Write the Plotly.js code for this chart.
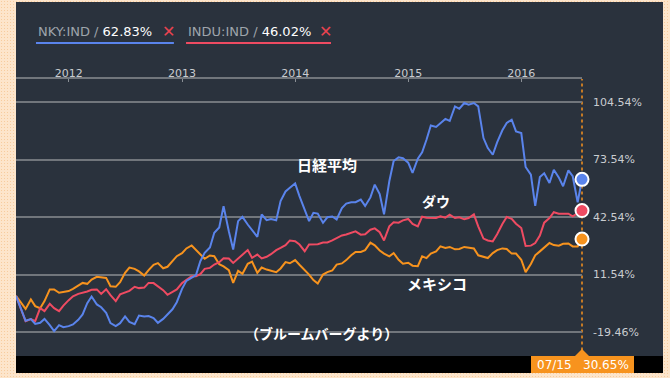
<!DOCTYPE html>
<html>
<head>
<meta charset="utf-8">
<script src="https://cdn.plot.ly/plotly-3.0.1.min.js"></script>
<style>
html,body{margin:0;padding:0;}
body{width:670px;height:378px;overflow:hidden;position:relative;
background-color:#fde5cb;
background-image:radial-gradient(#f7cc9e 0.9px, transparent 1px);
background-size:3px 3px;}
#chart{position:absolute;left:16px;top:2px;width:647px;height:371px;}
</style>
</head>
<body>
<div id="chart"></div>
<script>
// semi-monthly sampling calendar 2011-07-15 .. 2016-07-15
const dates = [];
for (let i = 0; i <= 120; i++) {
  const m = 6 + Math.ceil(i / 2);
  const d = new Date(Date.UTC(2011, m, i % 2 ? 1 : 15));
  dates.push(d.toISOString().slice(0, 10));
}

// % change since start
const nky = [0,-7.0,-13.4,-12.5,-15.1,-14.5,-12.4,-15.8,-19.0,-15.8,
-16.9,-16.3,-15.4,-12.9,-10.0,-3.9,-0.3,-4.6,-6.1,-9.1,
-14.7,-16.3,-14.7,-11.1,-14.0,-15.2,-10.6,-11.1,-10.9,-12.0,
-14.5,-12.4,-10.2,-7.2,-3.4,3.8,8.1,9.6,11.2,18.7,
23.2,26.1,34.0,36.9,48.4,34.9,25.0,40.3,42.6,38.5,
35.4,31.8,43.9,40.8,41.5,40.8,51.1,56.3,58.3,60.6,
53.8,46.2,40.3,44.8,44.4,39.4,42.4,42.8,41.2,47.3,
49.8,50.5,50.5,51.9,48.5,53.1,60.0,54.9,44.0,61.8,
72.7,74.7,74.2,71.8,66.3,74.0,77.4,84.2,91.9,91.1,
93.2,95.4,94.3,102.2,100.9,104.0,103.1,104.0,102.2,85.1,
79.7,76.1,82.8,89.3,93.2,95.0,88.7,87.8,69.5,65.4,
48.5,64.1,66.1,60.9,68.0,63.9,59.1,67.7,64.5,50.5,
62.83];

const indu = [0,-7.7,-13.6,-12.5,-13.6,-6.6,-8.2,-4.3,-6.6,-8.2,
-5.2,-2.3,-0.2,1.1,1.6,2.4,3.3,3.5,1.1,3.6,
0.4,-2.8,0.8,1.6,2.7,4.9,4.2,4.5,7.0,6.9,
5.2,3.1,0.6,2.2,3.5,6.9,8.7,10.6,10.6,11.7,
14.6,15.1,16.9,18.2,20.3,20.2,17.8,20.3,22.4,24.7,
20.5,22.3,20.2,21.1,22.5,24.7,25.9,27.4,29.9,29.5,
27.7,24.1,27.7,27.7,27.9,28.8,28.8,29.9,31.3,32.6,
33.1,33.8,34.8,33.0,33.2,35.7,36.4,34.3,29.9,37.5,
39.7,39.5,40.7,41.5,38.8,37.5,42.7,42.2,42.2,42.0,
42.9,42.2,43.8,42.0,42.4,41.3,42.0,44.0,37.5,30.9,
29.9,29.4,33.2,38.8,42.5,41.6,38.9,36.6,26.9,27.1,
28.5,32.5,39.5,42.0,45.1,44.3,44.3,44.3,42.9,44.7,
46.02];

const mex = [0,-3.7,-7.0,-1.9,-5.5,-6.6,-2.8,3.5,3.5,1.7,
2.2,2.6,3.8,5.8,7.0,6.5,8.8,10.3,9.9,9.7,
5.2,4.9,7.4,12.4,15.3,14.6,13.2,11.0,13.9,16.8,
17.7,14.9,15.7,18.9,21.4,23.0,25.6,27.2,24.7,22.7,
20.0,21.8,21.4,17.1,15.9,13.9,7.0,13.5,11.9,17.3,
18.5,12.4,15.3,14.2,13.7,12.8,14.8,18.2,17.6,19.3,
16.8,13.9,11.5,8.5,6.7,11.5,12.8,13.7,16.9,17.5,
19.3,21.9,23.7,23.7,24.7,28.7,27.3,24.5,22.8,21.3,
23.1,19.5,17.4,17.9,16.3,16.0,21.3,20.4,22.8,24.0,
26.7,25.8,26.4,25.1,25.3,26.4,26.0,25.6,21.9,20.9,
20.4,23.1,24.7,25.6,25.3,22.8,22.8,19.5,12.8,17.2,
21.9,24.0,26.0,28.5,27.4,27.1,28.1,28.3,26.7,26.7,
30.65];

const yTicks = [-19.46, 11.54, 42.54, 73.54, 104.54];
const yearTicks = ['2012-01-01','2013-01-01','2014-01-01','2015-01-01','2016-01-01'];
const yearLabels = ['2012','2013','2014','2015','2016'];
const legendNames = ['NKY:IND', 'INDU:IND'];
const seriesLabels = ['日経平均', 'ダウ', 'メキシコ'];
const sourceLabel = '（ブルームバーグより）';

const cBlue = '#5a84ec', cRed = '#ef4b62', cOrange = '#f7931e';
const last = dates.length - 1;
const endDate = dates[last];

function line(y, c) {
  return {x: dates, y: y, type: 'scatter', mode: 'lines',
    line: {color: c, width: 2}, hoverinfo: 'skip'};
}
function endPoint(y, c) {
  return {x: [endDate], y: [y[last]], type: 'scatter', mode: 'markers',
    marker: {color: c, size: 13, line: {color: '#ffffff', width: 2}},
    cliponaxis: false, hoverinfo: 'skip'};
}

const traces = [line(mex, cOrange), line(indu, cRed), line(nky, cBlue),
  endPoint(nky, cBlue), endPoint(indu, cRed), endPoint(mex, cOrange)];

const latin = 'DejaVu Sans, Verdana, sans-serif';
const jp = 'Noto Sans CJK JP, sans-serif';

function note(x, y, text, font, extra) {
  return Object.assign({xref:'paper', yref:'paper', x:x, y:y, xanchor:'center', yanchor:'middle',
    showarrow:false, text:text, font:font}, extra || {});
}

const annotations = [
  note(0.0353, 1.173, '<span style="color:#9ea4ab">' + legendNames[0] + ' / </span><span style="color:#ffffff">' + nky[last].toFixed(2) + '%</span>',
    {family:latin, size:13}, {xanchor:'left'}),
  note(0.270, 1.173, '✕', {family:latin, size:16, color:'#ea4350'}),
  note(0.3004, 1.173, '<span style="color:#9ea4ab">' + legendNames[1] + ' / </span><span style="color:#ffffff">' + indu[last].toFixed(2) + '%</span>',
    {family:latin, size:13}, {xanchor:'left'}),
  note(0.546, 1.173, '✕', {family:latin, size:16, color:'#ea4350'}),
  note(0.5495, 0.693, '<b>' + seriesLabels[0] + '</b>', {family:jp, size:15, color:'#ffffff'}),
  note(0.742, 0.5596, '<b>' + seriesLabels[1] + '</b>', {family:jp, size:14, color:'#ffffff'}),
  note(0.7438, 0.2635, '<b>' + seriesLabels[2] + '</b>', {family:jp, size:15, color:'#ffffff'}),
  note(0.539, 0.083, '<b>' + sourceLabel + '</b>', {family:jp, size:14, color:'#ffffff'}),
  note(1, 0, endDate.slice(5,7) + '/' + endDate.slice(8,10) + '&nbsp;&nbsp;&nbsp;' + mex[last].toFixed(2) + '%',
    {family:latin, size:12, color:'#ffffff'}, {yshift:-9, xshift:1})
];

const shapes = [
  {type:'line', xref:'paper', yref:'paper', x0:0.0353, x1:0.279, y0:1.130, y1:1.130, line:{color:cBlue, width:2}},
  {type:'line', xref:'paper', yref:'paper', x0:0.3004, x1:0.5565, y0:1.130, y1:1.130, line:{color:cRed, width:2}},
  {type:'rect', xref:'paper', yref:'paper', x0:-0.05, x1:1.2, y0:-0.0614, y1:0, fillcolor:'#000000', line:{width:0}, layer:'above'},
  {type:'line', xref:'paper', yref:'paper', x0:1, x1:1, y0:0.02, y1:1, line:{color:cOrange, width:1.5, dash:'dot'}, layer:'below'},
  {type:'rect', xref:'paper', yref:'paper', xsizemode:'pixel', ysizemode:'pixel', xanchor:1, yanchor:0,
   x0:-51, x1:52, y0:-20, y1:0, fillcolor:cOrange, line:{width:0}, layer:'above'},
  {type:'path', xref:'paper', yref:'paper', xsizemode:'pixel', ysizemode:'pixel', xanchor:1, yanchor:0,
   path:'M -7 0 L 7 0 L 0 7 Z', fillcolor:cOrange, line:{width:0}, layer:'above'}
];

const layout = {
  width: 647, height: 371,
  margin: {l: 0, r: 81, t: 77, b: 17, pad: 0},
  paper_bgcolor: '#2a323d', plot_bgcolor: '#2a323d',
  showlegend: false,
  xaxis: {type:'date', side:'top', range:[dates[0], endDate],
    tickvals: yearTicks, ticktext: yearLabels,
    showgrid:false, zeroline:false, showline:true, linecolor:'#71767c', linewidth:2,
    ticks:'inside', ticklen:3, tickcolor:'#8a8f95', tickwidth:1,
    ticklabelstandoff:-4,
    tickfont:{family:latin, size:11, color:'#c9ccd0'}},
  yaxis: {side:'right', range:[-32.4, 116.94], tickvals: yTicks,
    ticktext: yTicks.map(v => v.toFixed(2) + '%'),
    showgrid:true, gridcolor:'#71767c', gridwidth:2, zeroline:false, showline:false,
    ticks:'', ticklabelstandoff: 10,
    tickfont:{family:latin, size:11, color:'#c9ccd0'}},
  annotations: annotations,
  shapes: shapes
};

Plotly.newPlot('chart', traces, layout, {staticPlot:true, displayModeBar:false});
</script>
</body>
</html>
